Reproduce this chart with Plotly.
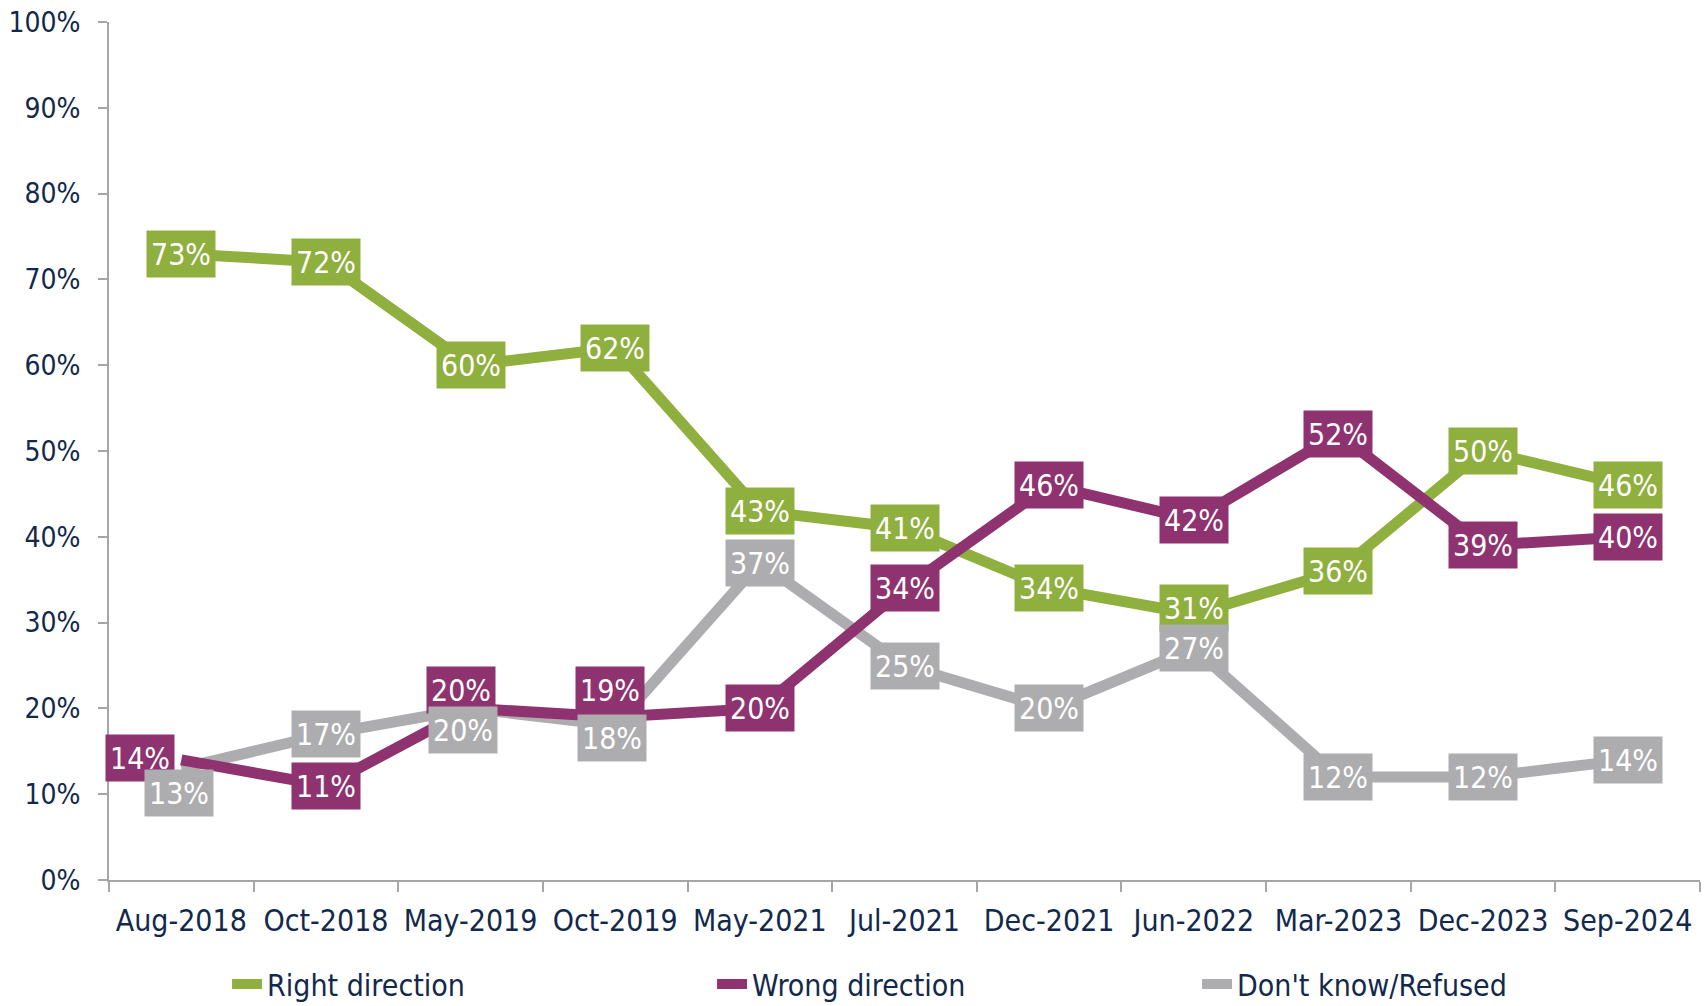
import plotly.graph_objects as go

categories = ["Aug-2018", "Oct-2018", "May-2019", "Oct-2019", "May-2021", "Jul-2021",
              "Dec-2021", "Jun-2022", "Mar-2023", "Dec-2023", "Sep-2024"]
right_direction = [73, 72, 60, 62, 43, 41, 34, 31, 36, 50, 46]
wrong_direction = [14, 11, 20, 19, 20, 34, 46, 42, 52, 39, 40]
dont_know = [13, 17, 20, 18, 37, 25, 20, 27, 12, 12, 14]
y_ticks = list(range(0, 101, 10))

GREEN = "#8FAF3E"
PURPLE = "#8F3270"
GRAY = "#ADADAF"
TEXT = "#13294B"
AXIS = "#A6A6A6"
FONT = "DejaVu Sans Condensed, DejaVu Sans, sans-serif"

# label offsets (px) for overlapping labels: (series, index) -> (xshift, yshift)
offsets = {
    ("wrong", 0): (-41, 2),
    ("dk", 0): (-2, -25),
    ("wrong", 2): (-10, 18),
    ("dk", 2): (-8, -22),
    ("wrong", 3): (-5, 27),
    ("dk", 3): (-3, -12),
    ("right", 7): (0, 6),
}

series = [
    ("dk", "Don't know/Refused", dont_know, GRAY, 3),
    ("right", "Right direction", right_direction, GREEN, 1),
    ("wrong", "Wrong direction", wrong_direction, PURPLE, 2),
]

fig = go.Figure()
for key, name, vals, color, rank in series:
    fig.add_trace(go.Scatter(
        x=categories, y=vals, mode="lines", name=name,
        line=dict(color=color, width=11), legendrank=rank,
        hoverinfo="skip",
    ))

annotations = []
for key, name, vals, color, rank in [series[1], series[2], series[0]]:
    for i, (c, v) in enumerate(zip(categories, vals)):
        xs, ys = offsets.get((key, i), (0, 0))
        annotations.append(dict(
            x=c, y=v, xref="x", yref="y", text=f"{v}%", showarrow=False,
            bgcolor=color, font=dict(color="white", size=30, family=FONT),
            width=68, height=46, borderpad=0, xshift=xs, yshift=ys,
        ))

fig.update_layout(
    width=1708, height=1006,
    margin=dict(l=109, r=8, t=22, b=126, autoexpand=False),
    paper_bgcolor="white", plot_bgcolor="white",
    font=dict(family=FONT, size=30, color=TEXT),
    showlegend=True,
    legend=dict(orientation="h", x=0.0742, xanchor="left", y=-0.1212, yanchor="middle",
                entrywidth=440, entrywidthmode="pixels",
                font=dict(size=30, color=TEXT, family=FONT)),
    annotations=annotations,
    xaxis=dict(type="category", range=[-0.5, 10.5], tickson="boundaries",
               ticks="outside", ticklen=10, tickcolor=AXIS, tickwidth=2,
               showline=True, linecolor=AXIS, linewidth=2, showgrid=False,
               automargin=False, ticklabeloverflow="allow",
               ticklabelstandoff=13, tickfont=dict(size=30, color=TEXT)),
    yaxis=dict(range=[0, 100], tickvals=y_ticks, ticktext=[f"{t}%" for t in y_ticks],
               ticks="outside", ticklen=9, tickcolor=AXIS, tickwidth=2,
               showline=True, linecolor=AXIS, linewidth=2, showgrid=False, zeroline=False,
               automargin=False, ticklabeloverflow="allow",
               ticklabelstandoff=12, tickfont=dict(size=28, color=TEXT)),
)

fig.write_html(
    "out.html",
    config={"displayModeBar": False},
    post_script="document.body.style.margin='0px'; document.body.style.overflow='hidden';",
)
